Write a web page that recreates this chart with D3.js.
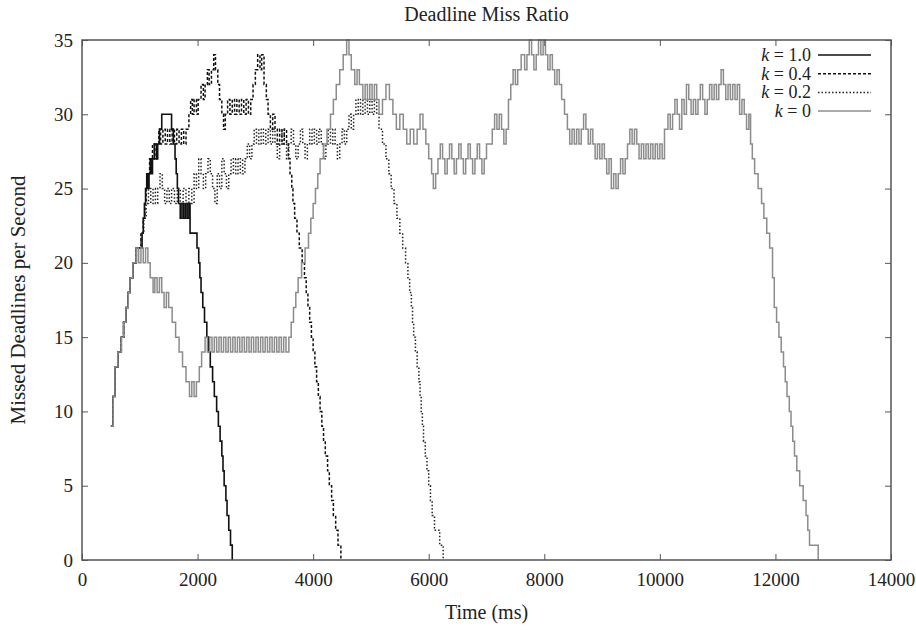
<!DOCTYPE html>
<html>
<head>
<meta charset="utf-8">
<script src="https://cdn.jsdelivr.net/npm/d3@7"></script>
<style>
  body { margin: 0; background: #fff; }
  text { font-family: "Liberation Serif", "DejaVu Serif", serif; fill: #222; }
</style>
</head>
<body>
<div id="chart"></div>
<script>
// [time (ms), missed deadlines per second]
const k10Data = [
  [500,9],[540,11],[570,13],[620,14],[680,15],[720,16],[760,17],[800,18],[830,19],[880,20],
  [940,21],[1000,21],[1040,22],[1060,23],[1080,24],[1100,25],[1120,26],[1140,25],[1160,26],
  [1180,27],[1200,26],[1220,27],[1250,28],[1290,27],[1310,28],[1340,29],[1380,30],[1550,29],
  [1580,28],[1610,27],[1630,26],[1650,25],[1670,24],[1700,23],[1730,24],[1760,23],[1790,24],
  [1820,23],[1850,24],[1870,22],[1990,21],[2020,20],[2040,19],[2060,18],[2090,17],[2120,16],
  [2160,15],[2190,14],[2220,13],[2260,12],[2290,11],[2330,10],[2360,9],[2390,8],[2420,7],
  [2440,6],[2460,5],[2490,4],[2510,3],[2540,2],[2570,1],[2600,0]
];

const k04Data = [
  [500,9],[540,11],[570,13],[620,14],[680,15],[720,16],[760,17],[800,18],[830,19],[880,20],
  [940,21],[1020,22],[1060,23],[1090,24],[1110,25],[1140,26],[1170,27],[1220,28],[1260,27],
  [1290,28],[1330,29],[1360,28],[1400,29],[1440,28],[1480,29],[1520,28],[1560,29],[1600,28],
  [1640,29],[1680,28],[1720,29],[1760,28],[1800,29],[1850,30],[1880,31],[1910,30],[1940,31],
  [1980,30],[2010,31],[2060,32],[2100,31],[2130,32],[2170,33],[2200,32],[2240,33],[2280,34],
  [2310,33],[2350,32],[2380,31],[2420,30],[2450,29],[2480,30],[2520,31],[2560,30],[2600,31],
  [2640,30],[2680,31],[2720,30],[2760,31],[2800,30],[2840,31],[2880,30],[2920,31],[2960,32],
  [3000,33],[3040,34],[3080,33],[3110,34],[3150,32],[3190,31],[3220,30],[3260,29],[3300,30],
  [3340,29],[3380,28],[3420,29],[3460,28],[3500,29],[3540,28],[3570,27],[3600,26],[3630,25],
  [3650,24],[3680,23],[3720,22],[3760,21],[3810,20],[3850,19],[3880,18],[3910,17],[3940,16],
  [3970,15],[4000,14],[4030,13],[4060,12],[4090,11],[4120,10],[4150,9],[4180,8],[4210,7],
  [4250,6],[4280,5],[4320,4],[4350,3],[4390,2],[4430,1],[4480,0]
];

const k02Data = [
  [500,9],[540,11],[570,13],[620,14],[680,15],[720,16],[760,17],[800,18],[830,19],[880,20],
  [940,21],[1020,22],[1070,23],[1110,24],[1150,25],[1190,24],[1230,25],[1270,24],[1310,25],
  [1350,26],[1390,25],[1430,24],[1470,25],[1510,24],[1550,25],[1600,24],[1650,25],[1700,24],
  [1750,25],[1800,24],[1850,25],[1900,24],[1940,26],[1980,25],[2020,27],[2060,26],[2100,25],
  [2140,26],[2180,27],[2220,26],[2260,25],[2300,24],[2340,26],[2380,25],[2420,27],[2460,26],
  [2500,25],[2540,26],[2580,27],[2620,26],[2660,27],[2700,26],[2740,27],[2780,26],[2820,27],
  [2860,28],[2900,27],[2940,28],[2980,29],[3020,28],[3060,29],[3100,28],[3140,29],[3180,28],
  [3220,29],[3260,28],[3300,29],[3340,28],[3380,27],[3420,28],[3460,29],[3500,28],[3540,27],
  [3580,28],[3620,29],[3660,28],[3700,27],[3740,28],[3780,29],[3820,28],[3860,27],[3900,28],
  [3940,29],[3980,28],[4020,29],[4060,28],[4100,29],[4140,28],[4180,27],[4220,28],[4260,29],
  [4300,28],[4340,29],[4380,28],[4420,27],[4460,28],[4500,29],[4540,28],[4580,29],[4620,30],
  [4660,29],[4700,30],[4740,31],[4780,30],[4820,31],[4860,30],[4900,31],[4940,30],[4980,31],
  [5020,30],[5060,31],[5100,30],[5140,29],[5200,28],[5260,27],[5310,26],[5350,25],[5400,24],
  [5450,23],[5500,22],[5550,21],[5600,20],[5640,19],[5670,18],[5700,17],[5720,16],[5740,15],
  [5770,14],[5800,13],[5830,12],[5850,11],[5870,10],[5890,9],[5910,8],[5940,7],[5970,6],
  [6000,5],[6030,4],[6060,3],[6100,2],[6190,1],[6250,0]
];

const k0Data = [
  [500,9],[540,11],[570,13],[620,14],[680,15],[720,16],[760,17],[800,18],[830,19],[880,20],
  [940,21],[980,20],[1020,21],[1060,20],[1100,21],[1140,20],[1180,19],[1230,18],[1260,19],
  [1300,18],[1340,19],[1380,18],[1420,17],[1460,18],[1500,17],[1560,16],[1620,15],[1680,14],
  [1740,13],[1800,12],[1860,11],[1900,12],[1940,11],[1980,12],[2030,13],[2070,14],[2130,15],
  [2170,14],[2210,15],[2250,14],[2290,15],[2330,14],[2370,15],[2410,14],[2450,15],[2490,14],
  [2530,15],[2570,14],[2610,15],[2650,14],[2690,15],[2730,14],[2770,15],[2810,14],[2850,15],
  [2890,14],[2930,15],[2970,14],[3010,15],[3050,14],[3090,15],[3130,14],[3170,15],[3210,14],
  [3250,15],[3290,14],[3330,15],[3370,14],[3410,15],[3450,14],[3490,15],[3530,14],[3580,15],
  [3620,16],[3660,17],[3700,18],[3740,19],[3800,20],[3860,21],[3920,22],[3960,23],[4000,24],
  [4040,25],[4080,26],[4120,27],[4180,28],[4240,29],[4300,30],[4350,31],[4400,32],[4460,33],
  [4520,34],[4580,35],[4620,34],[4660,33],[4720,32],[4760,33],[4800,32],[4860,31],[4900,32],
  [4940,31],[4980,32],[5020,31],[5060,32],[5100,31],[5140,30],[5200,31],[5260,32],[5320,31],
  [5380,30],[5440,29],[5500,30],[5560,29],[5620,28],[5680,29],[5740,28],[5800,29],[5850,30],
  [5900,29],[5950,28],[6000,27],[6050,26],[6080,25],[6120,26],[6160,27],[6200,28],[6240,27],
  [6280,26],[6320,27],[6360,28],[6400,27],[6440,26],[6480,27],[6520,28],[6560,27],[6600,26],
  [6640,27],[6680,28],[6720,27],[6760,26],[6800,27],[6840,28],[6880,27],[6920,26],[6960,27],
  [7000,28],[7060,28],[7100,29],[7140,30],[7180,29],[7220,30],[7260,29],[7300,28],[7340,29],
  [7380,31],[7420,32],[7460,33],[7500,32],[7540,33],[7600,34],[7660,33],[7700,34],[7740,35],
  [7780,34],[7820,33],[7860,34],[7900,35],[7940,34],[7980,35],[8020,34],[8060,33],[8100,34],
  [8140,33],[8180,32],[8220,33],[8260,32],[8300,31],[8350,30],[8400,29],[8440,28],[8480,29],
  [8520,28],[8560,29],[8600,28],[8640,29],[8680,30],[8720,29],[8760,28],[8800,29],[8840,28],
  [8880,27],[8920,28],[8960,27],[9000,28],[9040,27],[9080,26],[9120,27],[9160,25],[9200,26],
  [9240,25],[9280,26],[9320,27],[9360,26],[9400,27],[9440,28],[9480,29],[9520,28],[9560,29],
  [9600,28],[9640,27],[9680,28],[9720,27],[9760,28],[9800,27],[9840,28],[9880,27],[9920,28],
  [9960,27],[10000,28],[10040,27],[10080,29],[10140,30],[10180,29],[10220,30],[10260,31],
  [10300,30],[10340,29],[10380,31],[10420,30],[10460,32],[10500,31],[10540,30],[10580,31],
  [10620,30],[10660,31],[10700,32],[10740,31],[10780,30],[10820,31],[10860,32],[10900,31],
  [10940,32],[10980,31],[11020,32],[11060,33],[11100,32],[11140,31],[11180,32],[11220,31],
  [11260,32],[11300,31],[11340,32],[11380,30],[11420,31],[11460,30],[11500,29],[11540,30],
  [11570,28],[11600,27],[11640,26],[11700,25],[11760,24],[11800,23],[11850,22],[11900,21],
  [11950,19],[11980,17],[12020,16],[12060,15],[12100,14],[12140,13],[12170,12],[12200,11],
  [12240,10],[12270,9],[12300,8],[12330,7],[12370,6],[12420,5],[12480,4],[12530,3],[12560,2],
  [12590,1],[12740,0]
];

const seriesNames = ["1.0", "0.4", "0.2", "0"];
const xTicks = [0, 2000, 4000, 6000, 8000, 10000, 12000, 14000];
const yTicks = [0, 5, 10, 15, 20, 25, 30, 35];

const series = [
  {name: seriesNames[0], data: k10Data, stroke: "#111", dash: null,  width: 1.6},
  {name: seriesNames[1], data: k04Data, stroke: "#111", dash: "3,2", width: 1.5},
  {name: seriesNames[2], data: k02Data, stroke: "#222", dash: "1.5,2", width: 1.5},
  {name: seriesNames[3], data: k0Data,  stroke: "#8c8c8c", dash: null, width: 1.5}
];

const svg = d3.select("#chart")
              .append("svg")
              .attr("width", 916)
              .attr("height", 630);

const margin = {top: 40, right: 25, bottom: 70, left: 82},
      width = 916 - margin.left - margin.right,
      height = 630 - margin.top - margin.bottom;

const g = svg.append("g").attr("transform", `translate(${margin.left},${margin.top})`);

const x = d3.scaleLinear().domain([0, 14000]).range([0, width]);
const y = d3.scaleLinear().domain([0, 35]).range([height, 0]);

const line = d3.line()
               .x(d => x(d[0]))
               .y(d => y(d[1]))
               .curve(d3.curveStepAfter);

series.forEach(s => {
  g.append("path")
   .datum(s.data)
   .attr("fill", "none")
   .attr("stroke", s.stroke)
   .attr("stroke-width", s.width)
   .attr("stroke-dasharray", s.dash)
   .attr("d", line);
});

// gnuplot style: ticks inward, mirrored on top and right
const tickLen = 6;
function styleAxis(sel) {
  sel.select(".domain").remove();
  sel.selectAll(".tick line").attr("stroke", "#555").attr("stroke-width", 1);
  sel.selectAll(".tick text")
     .attr("font-family", "Liberation Serif")
     .attr("font-size", "19px")
     .attr("fill", "#222");
}

g.append("g")
 .attr("transform", `translate(0,${height})`)
 .call(d3.axisBottom(x).tickValues(xTicks).tickSize(-tickLen).tickPadding(13).tickFormat(d3.format("d")))
 .call(styleAxis);

g.append("g")
 .call(d3.axisLeft(y).tickValues(yTicks).tickSize(-tickLen).tickPadding(9))
 .call(styleAxis);

g.append("g")
 .call(d3.axisTop(x).tickValues(xTicks).tickSize(-tickLen).tickFormat(""))
 .call(styleAxis);

g.append("g")
 .attr("transform", `translate(${width},0)`)
 .call(d3.axisRight(y).tickValues(yTicks).tickSize(-tickLen).tickFormat(""))
 .call(styleAxis);

g.append("rect")
 .attr("width", width)
 .attr("height", height)
 .attr("fill", "none")
 .attr("stroke", "#555")
 .attr("stroke-width", 1.5);

// legend
const legend = g.append("g").attr("transform", `translate(${width - 80},15)`);
series.forEach((s, i) => {
  const row = legend.append("g").attr("transform", `translate(0,${i * 18.7})`);
  const t = row.append("text")
     .attr("x", 0)
     .attr("y", 6)
     .attr("text-anchor", "end")
     .attr("font-size", "18px");
  t.append("tspan").attr("font-style", "italic").text("k");
  t.append("tspan").text(" = " + s.name);
  row.append("line")
     .attr("x1", 7).attr("x2", 60)
     .attr("y1", 0).attr("y2", 0)
     .attr("stroke", s.stroke)
     .attr("stroke-width", s.width)
     .attr("stroke-dasharray", s.dash);
});

svg.append("text")
   .attr("x", margin.left + width / 2)
   .attr("y", 21)
   .attr("text-anchor", "middle")
   .attr("font-size", "20px")
   .text("Deadline Miss Ratio");

svg.append("text")
   .attr("x", margin.left + width / 2)
   .attr("y", 619)
   .attr("text-anchor", "middle")
   .attr("font-size", "20px")
   .text("Time (ms)");

svg.append("text")
   .attr("transform", `translate(25,${margin.top + height / 2}) rotate(-90)`)
   .attr("text-anchor", "middle")
   .attr("font-size", "21px")
   .text("Missed Deadlines per Second");
</script>
</body>
</html>
